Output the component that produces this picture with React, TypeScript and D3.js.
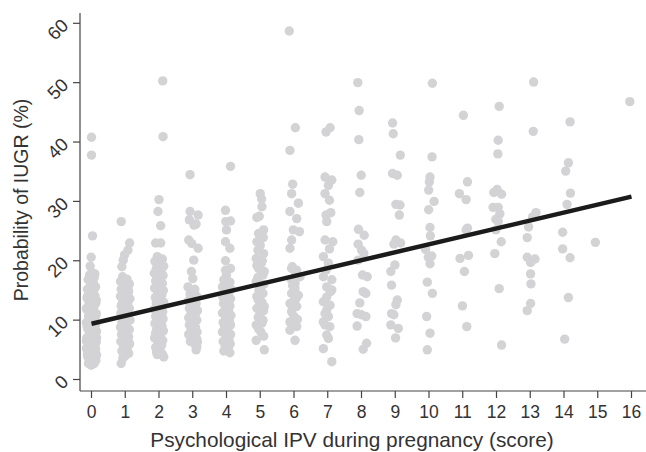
import React from "react";
import * as d3 from "d3";

// [jittered score, probability %], one array per score
const score0 = [[0.00,40.8],[0.00,37.8],[0.03,24.2],[-0.01,20.6],[-0.04,19.1],
  [0.02,18.0],[-0.06,17.6],[0.08,17.2],[-0.10,16.8],[0.05,16.4],[-0.02,16.0],[0.12,15.6],[-0.12,15.2],[0.06,14.9],[-0.05,14.5],[0.10,14.1],[-0.13,13.7],[0.01,13.3],[0.13,12.9],[-0.08,12.6],[0.07,12.2],[-0.14,11.8],[0.00,11.5],[0.14,11.1],[-0.09,10.7],[0.09,10.3],[-0.03,10.0],[-0.15,9.6],[0.12,9.2],[0.03,8.9],[-0.11,8.5],[0.15,8.1],[-0.04,7.8],[0.08,7.4],[-0.14,7.0],[0.02,6.7],[0.14,6.3],[-0.08,6.0],[0.06,5.6],[-0.15,5.2],[0.11,4.9],[-0.02,4.5],[0.15,4.1],[-0.11,3.8],[0.05,3.4],[-0.06,3.0],[0.08,2.7],[-0.01,2.4],
  [0.10,17.8],[-0.12,14.0],[0.14,13.4],[-0.15,12.0],[0.13,10.8],[-0.13,9.0],[0.15,7.0],[-0.15,6.5],[0.12,5.2],[-0.12,4.3],[0.13,3.2],[-0.09,2.7]];
const score1 = [[0.88,26.6],[1.13,23.0],[1.08,21.8],[0.98,21.0],[0.94,20.1],[0.90,19.0],
  [0.92,17.3],[1.05,16.9],[0.86,16.5],[1.12,16.1],[0.98,15.7],[0.88,15.2],[1.10,14.8],[1.02,14.4],[0.86,14.0],[1.14,13.6],[0.95,13.2],[1.07,12.8],[0.88,12.4],[1.12,12.0],[0.99,11.6],[0.87,11.2],[1.09,10.8],[0.94,10.4],[1.14,10.0],[0.90,9.6],[1.04,9.2],[0.86,8.8],[1.12,8.4],[0.97,8.0],[0.89,7.6],[1.10,7.2],[1.00,6.8],[0.87,6.4],[1.13,6.0],[0.95,5.6],[1.06,5.2],[0.90,4.8],[1.10,4.4],[1.00,4.0],[0.93,3.6],[0.88,2.7],
  [1.08,15.4],[0.92,13.0],[1.05,11.0],[0.93,9.0],[1.08,6.6],[0.96,4.6]];
const score2 = [[2.11,50.3],[2.12,40.9],[2.00,30.3],[1.97,28.3],[2.05,25.9],[1.90,23.0],[2.05,23.0],
  [1.95,20.7],[2.10,20.3],[1.88,19.9],[2.04,19.5],[2.14,19.1],[1.92,18.7],[2.07,18.3],[1.86,17.9],[2.12,17.5],[1.98,17.1],[1.90,16.6],[2.10,16.2],[2.02,15.8],[1.87,15.4],[2.13,15.0],[1.96,14.6],[2.08,14.2],[1.89,13.8],[2.03,13.4],[2.14,13.0],[1.93,12.6],[2.06,12.2],[1.86,11.8],[2.11,11.4],[1.99,11.0],[1.90,10.6],[2.12,10.2],[2.01,9.8],[1.88,9.4],[2.09,9.0],[1.95,8.6],[2.13,8.2],[1.90,7.8],[2.04,7.4],[1.87,7.0],[2.11,6.6],[1.97,6.2],[2.08,5.8],[1.90,5.4],[2.02,5.0],[1.93,4.6],[2.10,4.3],[2.14,3.8],
  [2.06,19.8],[1.94,17.3],[2.08,14.8],[1.92,12.9],[2.07,10.6],[1.93,8.3],[2.07,6.4],[1.95,4.2]];
const score3 = [[2.92,34.5],[2.92,28.3],[3.16,27.7],[2.90,26.9],[3.10,26.2],[3.04,26.0],[2.88,23.5],[2.97,22.9],[3.16,22.1],[3.03,20.1],[2.96,18.2],[3.00,17.0],[2.86,15.6],
  [3.05,14.8],[2.92,14.4],[3.12,14.0],[2.98,13.6],[2.87,13.2],[3.10,12.8],[3.02,12.4],[2.90,12.0],[3.14,11.6],[2.95,11.2],[3.07,10.8],[2.88,10.4],[3.12,10.0],[2.98,9.6],[2.90,9.2],[3.08,8.8],[2.95,8.4],[3.13,8.0],[2.88,7.6],[3.03,7.2],[3.12,6.8],[2.93,6.4],[3.06,6.0],[3.12,5.5],[3.10,5.0],
  [3.06,15.2],[2.94,13.0],[3.08,11.4],[2.93,9.9],[3.02,8.2],[2.96,6.9],[3.14,6.3]];
const score4 = [[4.12,35.9],[3.97,28.5],[4.12,26.7],[3.98,26.6],[4.00,25.2],[3.97,23.2],[4.10,22.1],[3.97,20.0],[4.12,18.7],[3.97,18.4],[4.00,17.6],
  [3.92,16.8],[4.10,16.4],[4.02,16.0],[3.88,15.6],[4.13,15.2],[3.96,14.8],[4.06,14.4],[3.89,14.0],[4.12,13.6],[4.00,13.2],[3.91,12.8],[4.10,12.4],[3.97,12.0],[4.06,11.6],[3.88,11.2],[4.13,10.8],[3.98,10.4],[4.08,10.0],[3.90,9.6],[4.12,9.2],[3.95,8.8],[4.04,8.4],[3.88,8.0],[4.12,7.6],[3.99,7.2],[4.07,6.8],[3.90,6.4],[4.11,6.0],[3.96,5.6],[4.05,5.2],[3.92,4.8],[4.10,4.5],
  [4.05,15.9],[3.93,13.5],[4.04,11.0],[3.94,8.6],[4.04,5.9]];
const score5 = [[5.00,31.3],[5.04,30.4],[5.05,29.1],[4.97,27.5],[4.90,27.3],[4.95,24.6],[5.09,23.9],[5.00,22.6],[4.93,21.8],[4.88,20.4],[5.03,19.6],[4.95,18.7],[5.08,17.6],[4.88,16.5],[5.00,15.6],[5.08,14.5],[4.94,13.4],[5.12,12.3],[5.00,11.1],[5.08,10.0],[4.88,9.2],[5.02,8.0],[4.88,6.6],[5.12,5.0],
  [5.10,25.2],[4.90,23.2],[5.10,21.2],[5.06,20.0],[4.90,19.2],[5.12,18.2],[4.93,17.2],[5.10,16.0],[4.96,15.0],[4.90,14.0],[5.05,13.0],[4.90,12.0],[5.10,11.6],[4.94,10.5],[5.05,9.5],[4.95,8.5],[5.10,7.3]];
const score6 = [[5.86,58.7],[6.04,42.4],[5.88,38.6],[5.96,32.9],[5.93,31.3],[6.13,29.7],[5.88,28.3],[6.08,27.1],[5.98,25.2],[6.16,24.9],[5.93,23.5],[5.88,22.1],[5.93,18.7],[6.08,18.4],[6.18,17.3],[6.03,16.2],[6.03,15.4],[5.93,14.5],[6.13,14.2],[5.98,13.1],[5.88,12.8],[6.08,12.3],[5.93,11.4],[6.00,10.6],[5.88,9.7],[6.08,8.9],[5.88,8.3],[6.03,6.6],
  [5.95,19.0],[6.05,17.8],[5.92,16.8],[5.96,15.8],[6.06,13.6],[5.95,11.9],[6.10,10.1]];
const score7 = [[6.95,41.7],[7.07,42.4],[6.92,34.1],[7.12,33.6],[7.02,32.7],[6.92,31.3],[6.95,27.7],[7.09,28.1],[6.97,26.6],[6.92,23.5],[7.15,23.2],[6.87,20.7],[7.02,19.6],[6.87,17.3],[7.12,16.8],[6.97,15.6],[7.12,15.1],[6.97,13.9],[6.87,13.1],[7.07,12.5],[6.97,11.7],[7.02,10.6],[6.87,9.7],[6.92,9.2],[6.97,7.5],[7.02,6.9],[6.87,5.2],[7.12,3.0],
  [7.05,30.2],[6.95,18.4],[7.08,14.8],[6.92,11.1],[7.06,8.9],[7.05,22.0]];
const score8 = [[7.89,50.0],[7.93,45.3],[7.92,40.4],[7.99,34.4],[7.95,31.5],[7.91,25.3],[8.08,24.3],[7.90,22.8],[8.00,21.8],[8.07,21.2],[7.90,20.1],[8.03,17.6],[8.17,17.3],[8.05,14.8],[8.13,14.5],[7.95,12.9],[7.87,11.1],[8.00,10.9],[8.13,10.6],[7.87,9.0],[8.15,6.1],[8.05,5.1]];
const score9 = [[8.92,43.2],[8.94,41.4],[9.15,37.8],[8.92,34.7],[9.06,34.4],[9.02,29.5],[9.14,29.4],[9.12,27.7],[9.02,23.5],[9.16,23.0],[8.96,22.8],[8.99,19.3],[8.87,18.2],[8.89,15.9],[9.06,13.4],[9.02,12.6],[8.89,11.1],[8.96,10.9],[8.87,9.2],[9.09,8.6],[9.01,7.0]];
const score10 = [[10.10,49.9],[10.09,37.5],[10.03,34.1],[10.01,33.3],[9.99,31.9],[10.15,30.0],[9.99,28.6],[10.03,25.6],[10.04,24.2],[9.90,21.9],[10.08,20.8],[9.98,20.6],[10.03,19.5],[9.95,16.4],[10.10,14.5],[9.93,10.6],[10.03,7.8],[9.95,5.0]];
const score11 = [[11.02,44.5],[11.14,33.3],[10.90,31.3],[11.10,30.3],[11.14,25.5],[11.10,25.2],[10.92,20.4],[11.17,20.9],[11.05,18.2],[10.99,12.4],[11.12,8.9]];
const score12 = [[12.08,46.0],[12.05,40.3],[12.04,38.0],[12.02,32.0],[11.92,31.5],[12.15,31.2],[11.90,29.0],[12.05,29.0],[12.10,27.9],[11.98,27.0],[12.05,26.6],[11.98,25.2],[12.14,23.2],[11.95,21.2],[12.08,15.3],[12.15,5.8]];
const score13 = [[13.10,50.1],[13.09,41.8],[13.17,28.1],[13.07,27.4],[12.95,25.7],[12.91,23.9],[12.91,20.6],[13.14,20.3],[13.01,19.7],[13.01,17.8],[13.02,16.1],[13.01,12.8],[12.91,11.6]];
const score14 = [[14.18,43.4],[14.13,36.5],[14.05,35.1],[14.19,31.4],[14.09,29.5],[13.96,24.8],[13.96,22.0],[14.18,20.5],[14.13,13.8],[14.02,6.8]];
const score15 = [[14.93,23.1]];
const score16 = [[15.95,46.8]];

// fitted line, probability at score 0 and 16
const fitLine = [[0, 9.4], [16, 30.8]];

const xTickValues = d3.range(0, 17);
const yTickValues = [0, 10, 20, 30, 40, 50, 60];

const xTitle = "Psychological IPV during pregnancy (score)";
const yTitle = "Probability of IUGR (%)";

const font = "'Liberation Sans', Arial, sans-serif";
const textColor = "#333";
const axisColor = "#444";
const dotColor = "#d3d3d5";

export default function App() {
  const width = 646;
  const height = 452;
  const x = d3.scaleLinear().domain([0, 16]).range([91.5, 631.5]);
  const y = d3.scaleLinear().domain([0, 60]).range([379.5, 23.3]);
  const axisX = 80;
  const axisY = 391;

  const points = [score0, score1, score2, score3, score4, score5, score6, score7, score8,
    score9, score10, score11, score12, score13, score14, score15, score16].flat();

  const line = d3.line<number[]>().x((d) => x(d[0])).y((d) => y(d[1]));

  return (
    <svg width={width} height={height} style={{ position: "absolute", left: 0, top: 0, background: "#fff" }}>
      {/* dots */}
      <g fill={dotColor}>
        {points.map((d, i) => (
          <circle key={i} cx={x(d[0])} cy={y(d[1])} r={4.7} />
        ))}
      </g>

      <path d={line(fitLine) || ""} fill="none" stroke="#1b1b1b" strokeWidth={4.5} />

      {/* axes */}
      <line x1={axisX} x2={axisX} y1={13} y2={axisY} stroke={axisColor} strokeWidth={1.2} />
      <line x1={axisX} x2={width} y1={axisY} y2={axisY} stroke={axisColor} strokeWidth={1.2} />

      {yTickValues.map((t) => (
        <g key={t}>
          <line x1={axisX - 7} x2={axisX} y1={y(t)} y2={y(t)} stroke={axisColor} strokeWidth={1.2} />
          <text
            transform={`translate(${axisX - 14},${y(t)}) rotate(-45)`}
            textAnchor="end"
            dominantBaseline="middle"
            fontFamily={font}
            fontSize={18.5}
            fill={textColor}
          >
            {t}
          </text>
        </g>
      ))}

      {xTickValues.map((t) => (
        <g key={t}>
          <line x1={x(t)} x2={x(t)} y1={axisY} y2={axisY + 7} stroke={axisColor} strokeWidth={1.2} />
          <text x={x(t)} y={418} textAnchor="middle" fontFamily={font} fontSize={17.5} fill={textColor}>
            {t}
          </text>
        </g>
      ))}

      <text x={352} y={447} textAnchor="middle" fontFamily={font} fontSize={20.8} fill={textColor}>
        {xTitle}
      </text>
      <text transform="translate(28,200) rotate(-90)" textAnchor="middle" fontFamily={font} fontSize={19.5} fill={textColor}>
        {yTitle}
      </text>
    </svg>
  );
}
